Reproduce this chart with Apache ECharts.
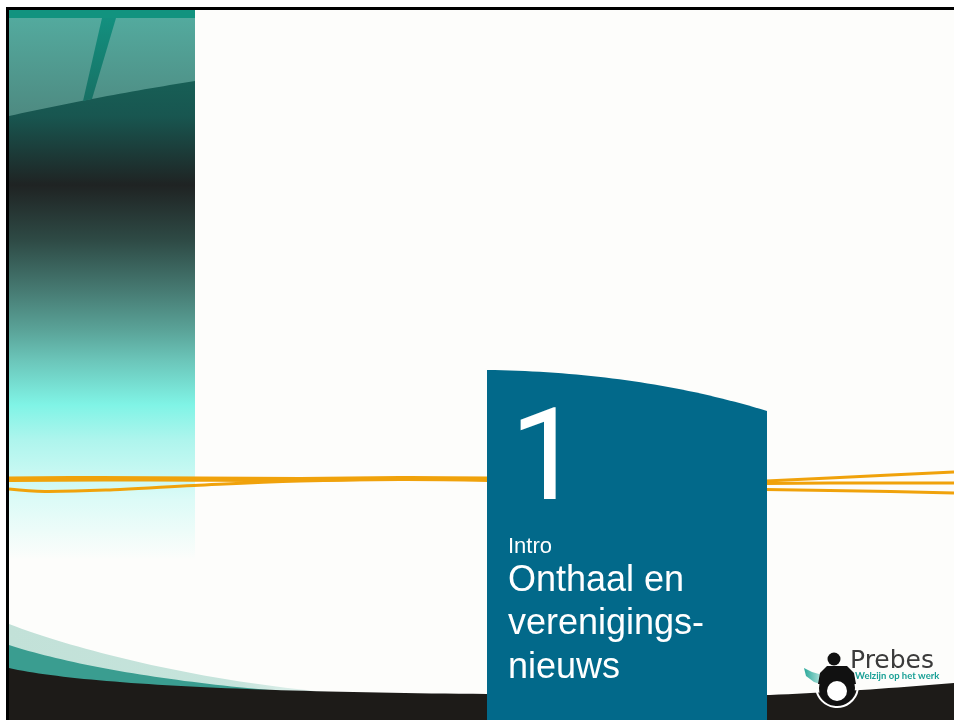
<!DOCTYPE html>
<html>
<head>
<meta charset="utf-8">
<script src="https://cdn.jsdelivr.net/npm/echarts@6/dist/echarts.min.js"></script>
<style>
html,body{margin:0;padding:0;background:#ffffff;}
#main{width:954px;height:720px;}
</style>
</head>
<body>
<div id="main"></div>
<script>
// Slide content
const slideNumber = '1';
const sectionLabel = 'Intro';
const titleLines = ['Onthaal en', 'verenigings-', 'nieuws'];
const logoName = 'Prebes';
const logoTagline = 'Welzijn op het werk';

const chart = echarts.init(document.getElementById('main'), null, {renderer: 'canvas'});
const LG = (x0, y0, x1, y1, stops) => new echarts.graphic.LinearGradient(x0, y0, x1, y1,
  stops.map(s => ({offset: s[0], color: s[1]})));

// sample cubic / quadratic bezier into points
function cubic(p0, p1, p2, p3, n) {
  const pts = [];
  for (let i = 0; i <= n; i++) {
    const t = i / n, u = 1 - t;
    pts.push([
      u*u*u*p0[0] + 3*u*u*t*p1[0] + 3*u*t*t*p2[0] + t*t*t*p3[0],
      u*u*u*p0[1] + 3*u*u*t*p1[1] + 3*u*t*t*p2[1] + t*t*t*p3[1]
    ]);
  }
  return pts;
}
function quad(p0, p1, p2, n) {
  const pts = [];
  for (let i = 0; i <= n; i++) {
    const t = i / n, u = 1 - t;
    pts.push([u*u*p0[0] + 2*u*t*p1[0] + t*t*p2[0], u*u*p0[1] + 2*u*t*p1[1] + t*t*p2[1]]);
  }
  return pts;
}

const orange = '#f0a20b';
function oLine(points) {
  return {type: 'polyline', z: 5, shape: {points: points, smooth: 0.4},
    style: {stroke: orange, lineWidth: 3, fill: null}};
}

const elements = [
  // slide area
  {type: 'rect', z: 0, shape: {x: 9, y: 10, width: 945, height: 710}, style: {fill: '#fdfdfb'}},
  // left panel base gradient
  {type: 'rect', z: 1, shape: {x: 9, y: 18, width: 186, height: 542},
    style: {fill: LG(0, 0, 0, 1, [
      [0, '#17695e'], [0.116, '#175f56'], [0.181, '#185650'], [0.308, '#1f2323'],
      [0.41, '#2e4a45'], [0.502, '#467a72'], [0.576, '#5aa398'], [0.631, '#6bc5b9'],
      [0.714, '#80f4e6'], [0.779, '#aef5ed'], [0.889, '#dcfbf7'], [1, '#fdfdfb']])}},
  // highlight
  {type: 'polygon', z: 2, shape: {points: [[9, 18], [195, 18]].concat(quad([195, 81], [100, 96], [9, 116], 30))},
    style: {fill: LG(0, 0, 0, 1, [[0, '#53aa9e'], [1, '#4e8a81']])}},
  // stripe
  {type: 'polygon', z: 3, shape: {points: [[102, 18], [116, 18], [92, 99], [83, 101]]},
    style: {fill: LG(0, 0, 0, 1, [[0, '#13907f'], [1, '#177064']])}},
  // top band
  {type: 'rect', z: 3, shape: {x: 9, y: 10, width: 186, height: 8}, style: {fill: '#12937f'}},

  // bottom swooshes
  {type: 'polygon', z: 4, shape: {points: cubic([9, 624], [90, 655], [220, 684], [340, 693], 40).concat([[9, 693]])},
    style: {fill: LG(0, 0, 1, 0, [[0, '#c2e1d8'], [0.7, '#c6e4dc'], [1, '#eef7f4']])}},
  {type: 'polygon', z: 4, shape: {points: cubic([9, 645], [70, 665], [170, 682], [280, 691], 40).concat([[9, 691]])},
    style: {fill: '#3a9d90'}},
  {type: 'polygon', z: 4, shape: {points: cubic([9, 668], [80, 684], [250, 692], [487, 694], 50)
      .concat([[770, 695]]).concat(quad([770, 695], [860, 691], [954, 683], 20)).concat([[954, 720], [9, 720]])},
    style: {fill: '#1d1b18'}},

  // orange lines left
  oLine([[9, 478], [100, 477.5], [200, 478], [300, 478.5], [400, 477.5], [488, 478]]),
  oLine([[9, 480.5], [150, 480], [300, 480.5], [420, 478.5], [488, 479.5]]),
  oLine([[9, 489], [45, 491.5], [120, 489.5], [194, 485.5], [300, 481], [400, 479.5], [488, 480.5]]),
  // orange lines right
  oLine([[766, 481], [860, 476.5], [954, 472]]),
  oLine([[766, 483.5], [860, 483], [954, 483]]),
  oLine([[766, 489.5], [860, 491], [954, 493]]),

  // blue box
  {type: 'polygon', z: 6, shape: {points: quad([487, 370], [640, 372], [767, 411], 40).concat([[767, 720], [487, 720]])},
    style: {fill: '#02698a'}},

  // frame
  {type: 'rect', z: 10, shape: {x: 6, y: 7, width: 948, height: 3}, style: {fill: '#000000'}},
  {type: 'rect', z: 10, shape: {x: 6, y: 7, width: 3, height: 713}, style: {fill: '#000000'}},

  // texts
  {type: 'text', z: 8, style: {x: 510, y: 467, text: slideNumber, fill: '#ffffff',
    fontSize: 128, fontFamily: 'Roboto', align: 'left', verticalAlign: 'middle'}},
  {type: 'text', z: 8, style: {x: 508, y: 547, text: sectionLabel, fill: '#ffffff',
    fontSize: 22, fontFamily: 'Liberation Sans', align: 'left', verticalAlign: 'middle'}},
];
titleLines.forEach((t, i) => {
  elements.push({type: 'text', z: 8, style: {x: 508, y: 581 + i * 43.5, text: t, fill: '#ffffff',
    fontSize: 36, fontFamily: 'Liberation Sans', align: 'left', verticalAlign: 'middle'}});
});

// logo
elements.push(
  {type: 'polygon', z: 7, shape: {points: [[804, 668], [812, 672], [826, 676], [826, 686], [814, 682], [806, 676]]},
    style: {fill: LG(0, 0, 1, 0, [[0, '#2aa89a'], [0.6, '#8fd4cb'], [1, '#ffffff']])}},
  {type: 'circle', z: 7, shape: {cx: 837, cy: 688, r: 18}, style: {fill: '#111111'}},
  {type: 'arc', z: 7, shape: {cx: 837, cy: 686, r: 21, startAngle: 0.15, endAngle: Math.PI - 0.15},
    style: {stroke: '#ffffff', lineWidth: 2, fill: null}},
  {type: 'polygon', z: 7, shape: {points: [[827, 666], [847, 666], [854, 673], [856, 684], [818, 684], [820, 673]]},
    style: {fill: '#111111'}},
  {type: 'circle', z: 7, shape: {cx: 837, cy: 691, r: 10}, style: {fill: '#ffffff'}},
  {type: 'circle', z: 7, shape: {cx: 834, cy: 659, r: 6.5}, style: {fill: '#111111'}},
  {type: 'text', z: 8, style: {x: 850, y: 661, text: logoName, fill: '#3b3b3b',
    fontSize: 25, fontFamily: 'DejaVu Sans', align: 'left', verticalAlign: 'middle'}},
  {type: 'text', z: 8, style: {x: 855, y: 676, text: logoTagline, fill: '#1aa096',
    fontSize: 9.5, fontWeight: 'bold', fontFamily: 'Lato', align: 'left', verticalAlign: 'middle'}}
);

chart.setOption({
  backgroundColor: '#ffffff',
  animation: false,
  graphic: {elements: elements}
});
</script>
</body>
</html>
